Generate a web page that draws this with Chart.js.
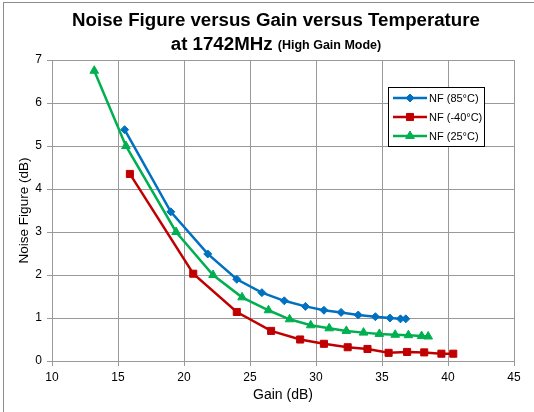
<!DOCTYPE html>
<html>
<head>
<meta charset="utf-8">
<script src="https://cdn.jsdelivr.net/npm/chart.js@4.4.1/dist/chart.umd.min.js"></script>
<style>
  body { margin: 0; background: #fff; }
  #wrap { width: 534px; height: 412px; }
</style>
</head>
<body>
<div id="wrap"><canvas id="nfChart" width="534" height="412"></canvas></div>
<script>
// data
const gain85 = [15.5, 19.0, 21.8, 24.0, 25.9, 27.6, 29.2, 30.6, 31.9, 33.2, 34.5, 35.6, 36.4, 36.8];
const nf85 = [5.38, 3.47, 2.49, 1.9, 1.59, 1.4, 1.27, 1.18, 1.13, 1.07, 1.03, 1.0, 0.98, 0.98];

const gainM40 = [15.9, 20.7, 24.0, 26.6, 28.8, 30.6, 32.4, 33.9, 35.5, 36.9, 38.2, 39.5, 40.4];
const nfM40 = [4.35, 2.03, 1.14, 0.7, 0.5, 0.4, 0.32, 0.28, 0.19, 0.21, 0.2, 0.17, 0.17];

const gain25 = [13.2, 15.6, 19.4, 22.2, 24.4, 26.4, 28.0, 29.6, 31.0, 32.3, 33.6, 34.8, 36.0, 37.0, 38.0, 38.5];
const nf25 = [6.75, 5.0, 3.0, 2.0, 1.48, 1.18, 0.97, 0.83, 0.76, 0.7, 0.66, 0.63, 0.61, 0.6, 0.58, 0.57];

const seriesLabels = ['NF (85°C)', 'NF (-40°C)', 'NF (25°C)'];
const xTitle = 'Gain (dB)';
const yTitle = 'Noise Figure (dB)';

const pts = (xs, ys) => xs.map((x, i) => ({ x: x, y: ys[i] }));

const FONT = 'Arial, "Liberation Sans", sans-serif';

// title with mixed sizes + outer frame
const titlePlugin = {
  id: 'mixedTitle',
  beforeDraw(chart) {
    const ctx = chart.ctx;
    ctx.save();
    ctx.strokeStyle = '#8c8c8c';
    ctx.lineWidth = 1;
    ctx.strokeRect(3.5, 2.5, 560, 440);
    ctx.restore();
  },
  afterDraw(chart) {
    const ctx = chart.ctx;
    ctx.save();
    ctx.fillStyle = '#000';
    ctx.textBaseline = 'middle';
    ctx.textAlign = 'center';
    ctx.font = 'bold 18.7px ' + FONT;
    ctx.fillText('Noise Figure versus Gain versus Temperature', 276, 21);
    const a = 'at 1742MHz ';
    const b = '(High Gain Mode)';
    const wa = ctx.measureText(a).width;
    ctx.font = 'bold 12.5px ' + FONT;
    const wb = ctx.measureText(b).width;
    const x0 = 276 - (wa + wb) / 2;
    ctx.textAlign = 'left';
    ctx.font = 'bold 18.7px ' + FONT;
    ctx.fillText(a, x0, 45);
    ctx.font = 'bold 12.5px ' + FONT;
    ctx.fillText(b, x0 + wa, 46);
    ctx.restore();
  }
};

// excel-like legend box inside the plot
const legendPlugin = {
  id: 'boxLegend',
  afterDatasetsDraw(chart) {
    const ctx = chart.ctx;
    const bx = 388, by = 87, bw = 96, bh = 59;
    ctx.save();
    ctx.fillStyle = '#fff';
    ctx.fillRect(bx, by, bw, bh);
    ctx.strokeStyle = '#000';
    ctx.lineWidth = 1;
    ctx.strokeRect(bx + 0.5, by + 0.5, bw, bh);
    chart.data.datasets.forEach((ds, i) => {
      const y = by + 11 + i * 19;
      ctx.strokeStyle = ds.borderColor;
      ctx.lineWidth = 2.5;
      ctx.beginPath();
      ctx.moveTo(bx + 5, y);
      ctx.lineTo(bx + 39, y);
      ctx.stroke();
      ctx.fillStyle = ds.borderColor;
      ctx.lineWidth = 1;
      Chart.helpers.drawPoint(ctx, {
        pointStyle: ds.pointStyle,
        radius: ds.pointRadius,
        borderWidth: 1
      }, bx + 22, y);
      ctx.fillStyle = '#000';
      ctx.font = '11px ' + FONT;
      ctx.textAlign = 'left';
      ctx.textBaseline = 'middle';
      ctx.fillText(ds.label, bx + 41, y + 1);
    });
    ctx.restore();
  }
};

function series(label, data, color, style, r) {
  return {
    label: label,
    data: data,
    borderColor: color,
    backgroundColor: color,
    pointBackgroundColor: color,
    pointBorderColor: color,
    pointStyle: style,
    pointRadius: r,
    pointBorderWidth: 1,
    borderWidth: 2.5,
    tension: 0,
    showLine: true,
    fill: false
  };
}

const nfConfig = {
  type: 'scatter',
  data: {
    datasets: [
      series(seriesLabels[0], pts(gain85, nf85), '#0070C0', 'rectRot', 4),
      series(seriesLabels[1], pts(gainM40, nfM40), '#C00000', 'rect', 5),
      series(seriesLabels[2], pts(gain25, nf25), '#00B050', 'triangle', 5)
    ]
  },
  options: {
    responsive: false,
    animation: false,
    layout: { padding: { left: 12, top: 60, right: 20, bottom: 4 } },
    plugins: {
      legend: { display: false },
      tooltip: { enabled: false }
    },
    scales: {
      x: {
        type: 'linear',
        min: 10,
        max: 45,
        ticks: { stepSize: 5, color: '#000', font: { family: FONT, size: 12 }, padding: 4 },
        grid: { color: '#999', tickLength: 5, lineWidth: 1 },
        border: { color: '#999' },
        title: { display: true, text: xTitle, color: '#000', font: { family: FONT, size: 14 }, padding: { top: 6 } },
        afterFit: (s) => { s.height = 47; }
      },
      y: {
        min: 0,
        max: 7,
        ticks: { stepSize: 1, color: '#000', font: { family: FONT, size: 12 }, padding: 5 },
        grid: { color: '#999', tickLength: 5, lineWidth: 1 },
        border: { color: '#999' },
        title: { display: true, text: yTitle, color: '#000', font: { family: FONT, size: 13.5 }, padding: { bottom: 4 } },
        afterFit: (s) => { s.width = 40; }
      }
    }
  },
  plugins: [titlePlugin, legendPlugin]
};

const nfChart = new Chart(document.getElementById('nfChart'), nfConfig);
</script>
</body>
</html>
